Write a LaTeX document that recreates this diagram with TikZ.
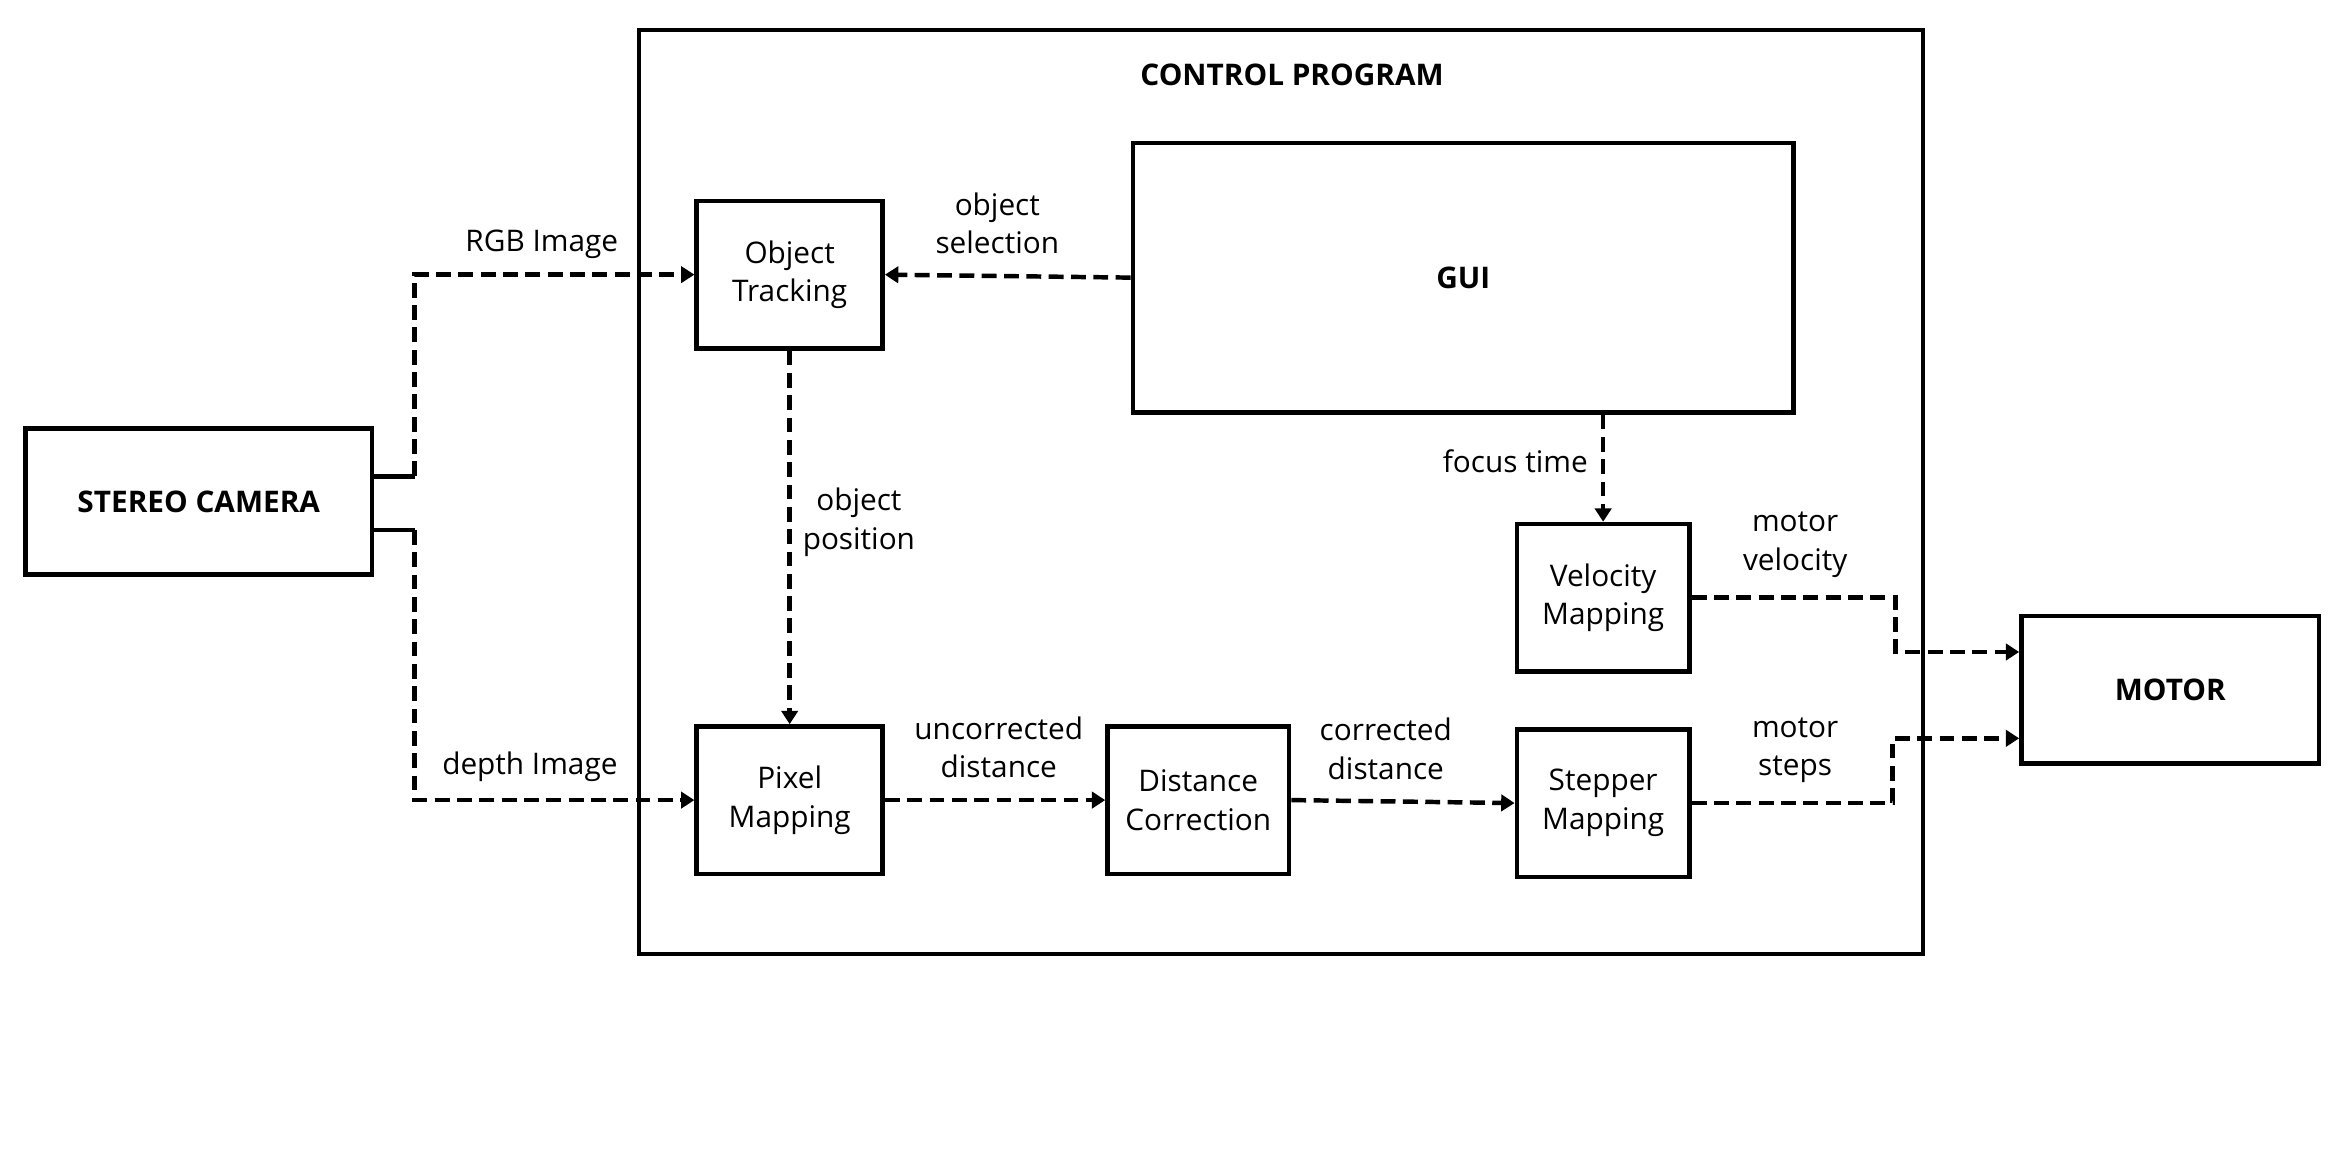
\documentclass[tikz,border=0pt]{standalone}
\usepackage{fontspec}
\setmainfont{Open Sans}
\usetikzlibrary{arrows.meta}
\tikzset{
  block/.style={draw,line width=1.5pt,align=center,inner sep=0pt,font=\fontsize{10}{13}\selectfont},
  bold/.style={font=\fontsize{10}{13}\selectfont\bfseries},
  flow/.style={-{Triangle[length=4.5pt,width=5.5pt]},line width=1.5pt,dash pattern=on 5pt off 2.5pt},
  stub/.style={line width=1.5pt},
  lbl/.style={align=center,inner sep=0pt,font=\fontsize{10}{13}\selectfont},
}
\begin{document}
\begin{tikzpicture}[x=0.5pt,y=-0.5pt]
  \useasboundingbox (0,0) rectangle (1568,782);
  % Frame: control program
  \node[draw,line width=1.3pt,minimum width=431.5pt,minimum height=310.5pt] (prog) at (860.5,330.5) {};
  \node[lbl,bold] (progtitle) at (868,50) {CONTROL PROGRAM};
  % Blocks
  \node[block,bold,minimum width=116.5pt,minimum height=49pt] (cam) at (133.5,337) {STEREO CAMERA};
  \node[block,minimum width=62.5pt,minimum height=49.5pt] (track) at (530.5,184.5) {Object\\Tracking};
  \node[block,bold,minimum width=222pt,minimum height=90.5pt] (gui) at (983,186.5) {GUI};
  \node[block,minimum width=58pt,minimum height=49.5pt] (vel) at (1077,401.5) {Velocity\\Mapping};
  \node[block,minimum width=62.5pt,minimum height=49.5pt] (pixel) at (530.5,537.5) {Pixel\\Mapping};
  \node[block,minimum width=61pt,minimum height=49.5pt] (dist) at (805,537.5) {Distance\\Correction};
  \node[block,minimum width=58pt,minimum height=49.5pt] (step) at (1077,539.5) {Stepper\\Mapping};
  \node[block,bold,minimum width=100pt,minimum height=49.5pt] (motor) at (1458,463.5) {MOTOR};
  % Ports
  \coordinate (camA) at ([yshift=8.5pt]cam.east);
  \coordinate (camB) at ([yshift=-9.5pt]cam.east);
  \coordinate (motA) at ([yshift=12.75pt]motor.west);
  \coordinate (motB) at ([yshift=-16.25pt]motor.west);
  % Edges
  \draw[stub] (camA) -- ++(27,0) coordinate (kneeA);
  \draw[flow] (kneeA) |- (track.west);
  \draw[stub] (camB) -- ++(27,0) coordinate (kneeB);
  \draw[flow] (kneeB) |- (pixel.west);
  \draw[flow] (gui.west) -- (track.east);
  \draw[flow] (track.south) -- (pixel.north);
  \draw[flow] (pixel.east) -- (dist.west);
  \draw[flow] (dist.east) -- (step.west);
  \draw[flow] (gui.south -| vel.north) -- (vel.north);
  \draw[flow] (vel.east) -- ++(137,0) |- (motA);
  \draw[flow] (step.east) -- ++(135,0) |- (motB);
  % Labels
  \node[lbl] (rgblbl) at (364,164) {RGB Image};
  \node[lbl] (depthlbl) at (356,515) {depth Image};
  \node[lbl] (sellbl) at (670,150) {object\\selection};
  \node[lbl] (poslbl) at (577,351) {object\\position};
  \node[lbl] (uncorlbl) at (671,502) {uncorrected\\distance};
  \node[lbl] (corlbl) at (931,503) {corrected\\distance};
  \node[lbl] (focuslbl) at (1018,310) {focus time};
  \node[lbl] (vellbl) at (1206,366) {motor\\velocity};
  \node[lbl] (steplbl) at (1206,504) {motor\\steps};
\end{tikzpicture}
\end{document}
